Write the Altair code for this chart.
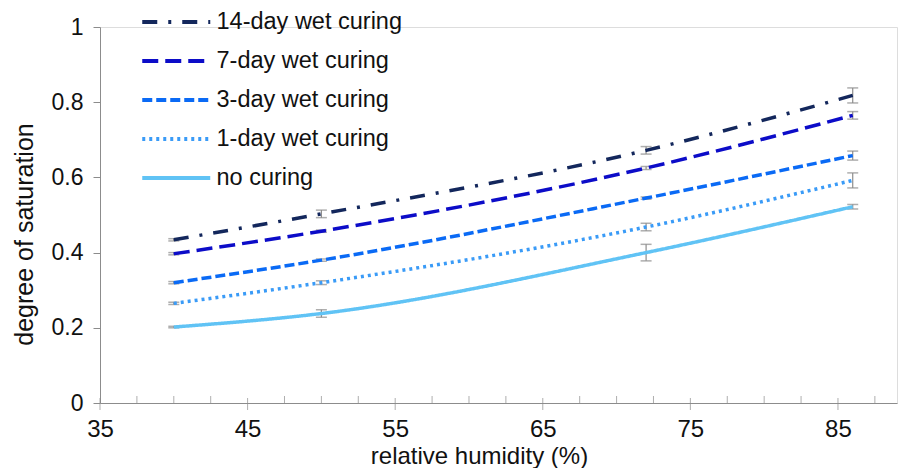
import altair as alt
import pandas as pd

# ---- data ----
humidity = [40, 50, 72, 86]
series_names = ["14-day wet curing", "7-day wet curing", "3-day wet curing",
                "1-day wet curing", "no curing"]
s14 = [0.434, 0.503, 0.672, 0.818]
s7 = [0.397, 0.457, 0.625, 0.765]
s3 = [0.320, 0.380, 0.545, 0.658]
s1 = [0.265, 0.320, 0.468, 0.592]
s0 = [0.202, 0.238, 0.400, 0.522]
e14 = [0.003, 0.010, 0.010, 0.020]
e7 = [0.003, 0.003, 0.004, 0.010]
e3 = [0.003, 0.003, 0.003, 0.012]
e1 = [0.003, 0.005, 0.010, 0.020]
e0 = [0.002, 0.010, 0.022, 0.006]
x_major = [35, 45, 55, 65, 75, 85]
x_minor = [37.5, 40, 42.5, 47.5, 50, 52.5, 57.5, 60, 62.5, 67.5, 70, 72.5,
           77.5, 80, 82.5, 87.5]
y_ticks = [0, 0.2, 0.4, 0.6, 0.8, 1]

colors = ["#13275c", "#0c0cc8", "#0a6af5", "#3a9bf7", "#60c3f5"]
dashes = [[15, 11, 3, 11], [16, 7], [10, 4], [3, 4], [1, 0]]

rows = []
for name, vals, errs in zip(series_names, [s14, s7, s3, s1, s0], [e14, e7, e3, e1, e0]):
    for x, v, e in zip(humidity, vals, errs):
        rows.append({"series": name, "rh": x, "sat": v, "lo": v - e, "hi": v + e})
df = pd.DataFrame(rows)

ticks_df = pd.DataFrame(
    [{"t": t, "kind": "major"} for t in x_major] + [{"t": t, "kind": "minor"} for t in x_minor]
)

FONT = "Liberation Sans, Arial, sans-serif"
xscale = alt.Scale(domain=[35, 89], nice=False, zero=False)
yscale = alt.Scale(domain=[0, 1], nice=False)

xenc = alt.X("rh:Q", scale=xscale,
             axis=alt.Axis(title="relative humidity (%)", values=x_major, ticks=False, tickSize=0,
                           grid=False, domainColor="#8c8c8c", labelFont=FONT, labelFontSize=24,
                           labelColor="#111", labelPadding=14, labelFlush=False, titleFont=FONT,
                           titleFontSize=24, titleFontWeight="normal", titleColor="#111",
                           titleX=379, titleY=60, titleBaseline="alphabetic",
                           titleAlign="center"))
yenc = alt.Y("sat:Q", scale=yscale,
             axis=alt.Axis(title="degree of saturation", values=y_ticks, format="~g", grid=False,
                           tickSize=7, tickColor="#8c8c8c", domainColor="#8c8c8c", labelFont=FONT,
                           labelFontSize=23, labelColor="#111", labelPadding=10, labelFlush=False,
                           titleFont=FONT, titleFontSize=25, titleFontWeight="normal",
                           titleColor="#111", titleX=-68, titleY=207, titleAngle=270,
                           titleBaseline="alphabetic", titleAlign="center"))

leg = dict(title=None, orient="none", legendX=39, legendY=-16.75, symbolType="M-1,0H7",
           symbolSize=289, symbolStrokeWidth=4, labelOffset=54, labelFont=FONT,
           labelFontSize=23.5, labelColor="#111", rowPadding=14, padding=0, labelLimit=400)

lines = alt.Chart(df).mark_line(interpolate="monotone", strokeWidth=3.5).encode(
    x=xenc,
    y=yenc,
    color=alt.Color("series:N", scale=alt.Scale(domain=series_names, range=colors),
                    legend=alt.Legend(**leg)),
    strokeDash=alt.StrokeDash("series:N", scale=alt.Scale(domain=series_names, range=dashes),
                              legend=alt.Legend(**leg)),
)

err_rule = alt.Chart(df).mark_rule(color="#8c8c8c", strokeWidth=1.2).encode(
    x="rh:Q", y="lo:Q", y2="hi:Q")
err_lo = alt.Chart(df).mark_tick(orient="horizontal", size=11, thickness=1.5, color="#8c8c8c").encode(
    x="rh:Q", y="lo:Q")
err_hi = alt.Chart(df).mark_tick(orient="horizontal", size=11, thickness=1.5, color="#8c8c8c").encode(
    x="rh:Q", y="hi:Q")

maj = alt.Chart(ticks_df).transform_filter(alt.datum.kind == "major").mark_tick(
    orient="vertical", size=12, thickness=1, color="#8c8c8c", yOffset=1).encode(
    x=alt.X("t:Q"), y=alt.datum(0))
mino = alt.Chart(ticks_df).transform_filter(alt.datum.kind == "minor").mark_tick(
    orient="vertical", size=7, thickness=1, color="#8c8c8c", yOffset=-3.5).encode(
    x=alt.X("t:Q"), y=alt.datum(0))

chart = alt.layer(err_rule, err_lo, err_hi, lines, maj, mino).resolve_scale(
    x="shared", y="shared").properties(
    width=797, height=376,
    autosize=alt.AutoSizeParams(type="none"),
    padding={"left": 100, "top": 27, "right": 3, "bottom": 65},
    background="white",
).configure_view(stroke=None).configure(font=FONT)

chart.save("out.html", embed_options={"renderer": "svg", "actions": False})
